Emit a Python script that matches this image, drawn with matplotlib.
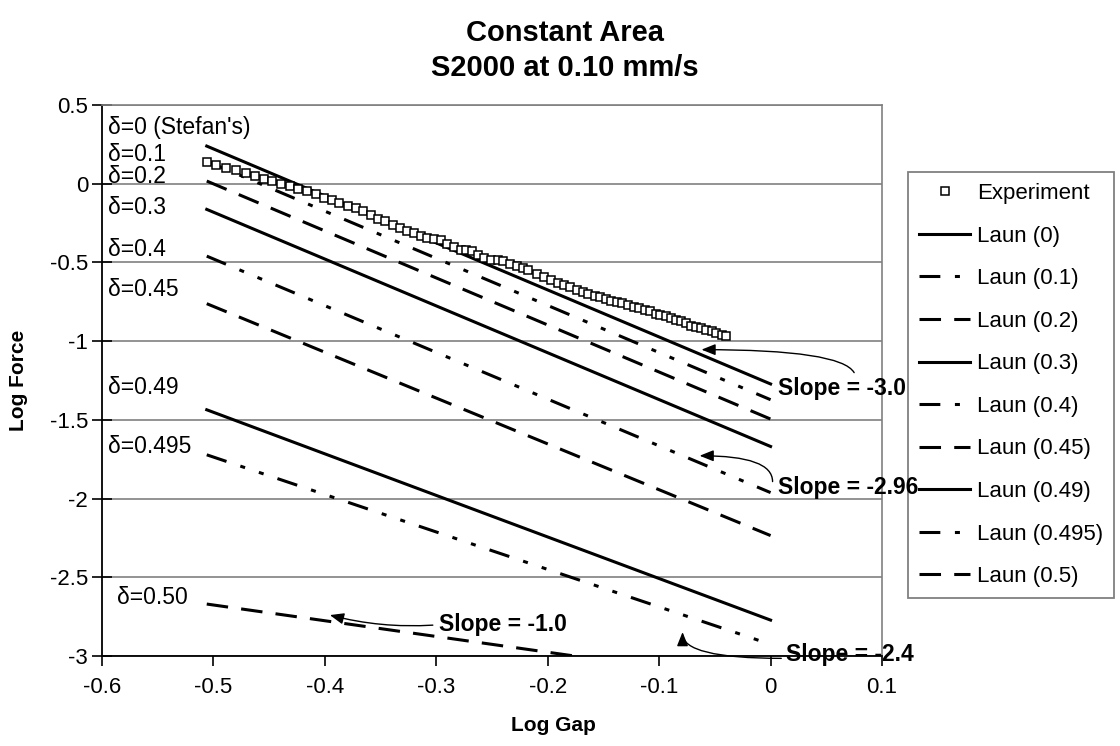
import matplotlib
matplotlib.use("Agg")
import matplotlib.pyplot as plt
from matplotlib.lines import Line2D

plt.rcParams['font.family'] = ['Liberation Sans', 'DejaVu Sans']
plt.rcParams['lines.scale_dashes'] = False

# ---------------- data ----------------
exp_log_gap = [-0.506, -0.498, -0.489, -0.480, -0.471, -0.463, -0.455, -0.447, -0.439, -0.431,
               -0.424, -0.416, -0.408, -0.401, -0.394, -0.387, -0.379, -0.372, -0.366, -0.359,
               -0.352, -0.346, -0.339, -0.333, -0.326, -0.320, -0.314, -0.308, -0.302, -0.296,
               -0.290, -0.284, -0.278, -0.273, -0.268, -0.263, -0.257, -0.251, -0.245, -0.240,
               -0.234, -0.228, -0.222, -0.218, -0.210, -0.203, -0.197, -0.191, -0.185, -0.180,
               -0.174, -0.168, -0.164, -0.158, -0.153, -0.148, -0.143, -0.138, -0.133, -0.128,
               -0.123, -0.118, -0.113, -0.108, -0.103, -0.099, -0.094, -0.089, -0.085, -0.080,
               -0.076, -0.071, -0.067, -0.062, -0.058, -0.053, -0.049, -0.044, -0.040]
exp_log_force = [0.137, 0.118, 0.102, 0.087, 0.066, 0.048, 0.032, 0.017, 0.000, -0.015,
                 -0.036, -0.047, -0.068, -0.089, -0.104, -0.121, -0.142, -0.153, -0.174, -0.196,
                 -0.227, -0.238, -0.262, -0.280, -0.302, -0.316, -0.333, -0.344, -0.350, -0.359,
                 -0.382, -0.401, -0.418, -0.424, -0.429, -0.450, -0.471, -0.482, -0.486, -0.492,
                 -0.513, -0.524, -0.534, -0.545, -0.571, -0.592, -0.614, -0.630, -0.641, -0.655,
                 -0.677, -0.690, -0.700, -0.711, -0.721, -0.732, -0.747, -0.753, -0.757, -0.768,
                 -0.782, -0.789, -0.800, -0.810, -0.825, -0.831, -0.842, -0.852, -0.863, -0.874,
                 -0.884, -0.906, -0.910, -0.916, -0.927, -0.938, -0.948, -0.959, -0.965]

laun_log_gap = [-0.506, 0.0]
laun_d000 = [0.239, -1.272]
laun_d010 = [0.143, -1.372]
laun_d020 = [0.017, -1.495]
laun_d030 = [-0.163, -1.669]
laun_d040 = [-0.460, -1.962]
laun_d045 = [-0.762, -2.235]
laun_d049 = [-1.436, -2.772]
laun_d0495 = [-1.722, -2.926]
laun_d050 = [-2.670, -3.176]

laun_series = [laun_d000, laun_d010, laun_d020, laun_d030, laun_d040,
               laun_d045, laun_d049, laun_d0495, laun_d050]
laun_labels = ['Laun (0)', 'Laun (0.1)', 'Laun (0.2)', 'Laun (0.3)', 'Laun (0.4)',
               'Laun (0.45)', 'Laun (0.49)', 'Laun (0.495)', 'Laun (0.5)']
delta_labels = ["δ=0 (Stefan's)", 'δ=0.1', 'δ=0.2', 'δ=0.3', 'δ=0.4',
                'δ=0.45', 'δ=0.49', 'δ=0.495', 'δ=0.50']

x_ticks = [-0.6, -0.5, -0.4, -0.3, -0.2, -0.1, 0.0, 0.1]
x_tick_labels = ['-0.6', '-0.5', '-0.4', '-0.3', '-0.2', '-0.1', '0', '0.1']
y_ticks = [-3, -2.5, -2, -1.5, -1, -0.5, 0, 0.5]
y_tick_labels = ['-3', '-2.5', '-2', '-1.5', '-1', '-0.5', '0', '0.5']

# ---------------- styles ----------------
LW = 2.2
solid = '-'
dashdotdot = (0, (15, 10.5, 3.6, 10.5, 3.6, 10.5))
dashed = (0, (15.5, 9.5))
styles = [solid, dashdotdot, dashed, solid, dashdotdot, dashed, solid, dashdotdot, dashed]

W, H = 1120, 746
fig = plt.figure(figsize=(W / 100, H / 100), dpi=100)
ax = fig.add_axes([102 / W, 1 - 656 / H, (882 - 102) / W, (656 - 105) / H])
ax.set_zorder(10)
ax.set_xlim(-0.6, 0.1)
ax.set_ylim(-3, 0.5)

ax.set_yticks(y_ticks)
ax.set_yticklabels(y_tick_labels)
ax.set_xticks(x_ticks)
ax.set_xticklabels(x_tick_labels)
ax.tick_params(axis='y', direction='inout', length=14, width=1.2, labelsize=16, pad=3)
ax.tick_params(axis='x', direction='out', length=7, width=1.2, labelsize=16, pad=8)

ax.yaxis.grid(True, color='#808080', linewidth=1.2)
ax.set_axisbelow(True)
for s in ['left', 'bottom']:
    ax.spines[s].set_color('black')
    ax.spines[s].set_linewidth(1.3)
for s in ['top', 'right']:
    ax.spines[s].set_color('#808080')
    ax.spines[s].set_linewidth(1.2)

handles = []
for vals, st, lab in zip(laun_series, styles, laun_labels):
    h, = ax.plot(laun_log_gap, vals, color='black', linestyle=st, linewidth=LW,
                 dash_capstyle='butt', label=lab, zorder=3)
    handles.append(h)

exp_h, = ax.plot(exp_log_gap, exp_log_force, linestyle='none', marker='s', markersize=6.0,
                 markerfacecolor='white', markeredgecolor='black', markeredgewidth=1.1,
                 label='Experiment', zorder=4)

# delta labels
delta_pos = [(-0.5946, 0.358), (-0.5946, 0.186), (-0.5946, 0.046), (-0.5946, -0.151),
             (-0.5946, -0.418), (-0.5946, -0.673), (-0.5946, -1.296), (-0.5946, -1.672),
             (-0.5865, -2.626)]
for (px, py), t in zip(delta_pos, delta_labels):
    ax.text(px, py, t, fontsize=16.5, ha='left', va='center', zorder=5)

# slope labels and arrows
bold = dict(fontsize=16.5, fontweight='bold', ha='left', va='center', zorder=6, clip_on=False)
ax.text(0.0063, -1.302, 'Slope = -3.0', **bold)
ax.text(0.0063, -1.932, 'Slope = -2.96', **bold)
ax.text(0.014, -2.988, 'Slope = -2.4', **bold)
ax.text(-0.2975, -2.797, 'Slope = -1.0', **bold)

def arrow(head, tail, cs):
    ax.annotate('', xy=head, xytext=tail,
                arrowprops=dict(arrowstyle='-|>,head_length=0.7,head_width=0.28',
                                color='black', lw=1.0, shrinkA=0, shrinkB=0,
                                connectionstyle=cs, mutation_scale=12),
                annotation_clip=False, zorder=6)

arrow((-0.062, -1.054), (0.075, -1.200), 'angle3,angleA=120,angleB=0')
arrow((-0.0637, -1.728), (0.0018, -1.892), 'angle3,angleA=90,angleB=0')
arrow((-0.079, -2.848), (0.0096, -3.015), 'angle3,angleA=0,angleB=90')
arrow((-0.3955, -2.740), (-0.3031, -2.804), 'arc3,rad=-0.08')

# axis labels
ax.set_ylabel('Log Force', fontsize=15, fontweight='bold')
ax.yaxis.set_label_coords((28 - 102) / 780, 0.5)
ax.set_xlabel('Log Gap', fontsize=15, fontweight='bold')
ax.xaxis.set_label_coords((553 - 102) / 780, -(716 - 656) / 551)

# title
fig.text(565 / W, 1 - 33 / H, 'Constant Area', fontsize=21, fontweight='bold', ha='center', va='center')
fig.text(565 / W, 1 - 68 / H, 'S2000 at 0.10 mm/s', fontsize=21, fontweight='bold', ha='center', va='center')

leg = fig.legend([exp_h] + handles, ['Experiment'] + laun_labels, loc='upper left',
                 bbox_to_anchor=(908 / W, 1 - 172 / H), frameon=True, fancybox=False,
                 edgecolor='#808080', fontsize=16, handlelength=2.3, handletextpad=0.3,
                 labelspacing=0.97, borderpad=0.5, borderaxespad=0, numpoints=1)
leg.get_frame().set_linewidth(1.3)
leg.get_frame().set_alpha(1)
leg.set_zorder(1)

fig.savefig('out.png', dpi=100)
